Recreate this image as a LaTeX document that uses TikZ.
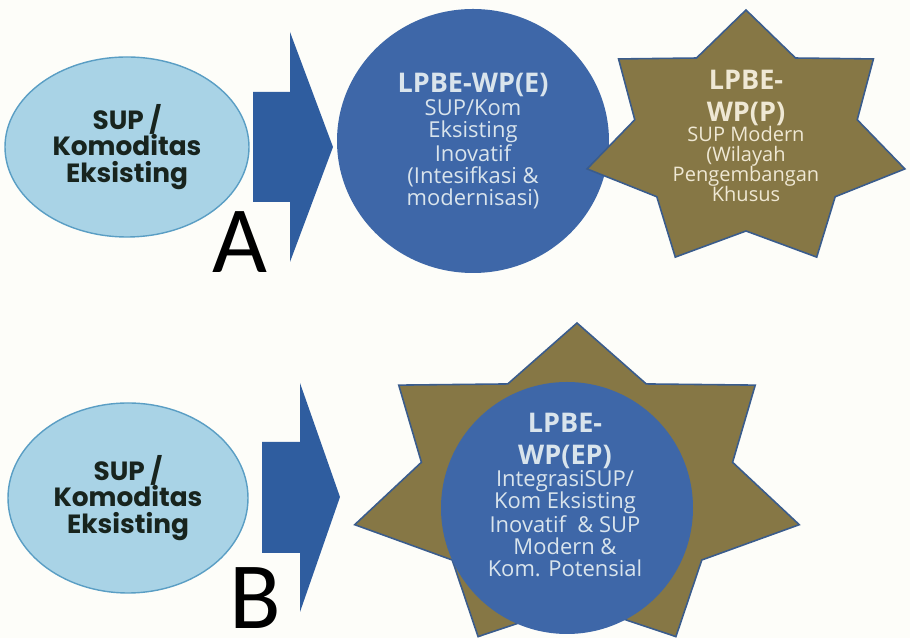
\documentclass[tikz,border=0pt]{standalone}
\usepackage{fontspec}
\setmainfont{Open Sans}
\newfontfamily\heavyfont{Poppins}
\newfontfamily\letterfont{Carlito}
\usetikzlibrary{shapes.geometric}

\definecolor{paper}{HTML}{FDFDF9}
\definecolor{skyfill}{HTML}{A9D3E6}
\definecolor{skyline}{HTML}{5A9EC4}
\definecolor{arrowblue}{HTML}{2F5D9F}
\definecolor{discblue}{HTML}{3E67A8}
\definecolor{khaki}{HTML}{867745}
\definecolor{starline}{HTML}{3A5C8C}
\definecolor{disctext}{HTML}{D9E4EC}
\definecolor{startext}{HTML}{EFE8D4}
\definecolor{inkdark}{HTML}{18241E}

\newcommand\headfont{\bfseries\fontsize{15.4}{18}\selectfont}

\begin{document}
\begin{tikzpicture}[
  oval/.style={ellipse, draw=skyline, fill=skyfill, line width=0.8pt, align=center,
    text=inkdark, font=\heavyfont\bfseries\fontsize{15}{15}\selectfont},
  disc/.style={ellipse, fill=discblue, inner sep=0pt},
  disclabel/.style={align=center, text=disctext, font=\fontsize{12.5}{12.5}\selectfont},
  starlabel/.style={align=center, text=startext, font=\fontsize{11.4}{11.4}\selectfont},
  star7/.style={fill=khaki, draw=starline, line width=0.9pt, line join=miter},
  blockarrow/.style={fill=arrowblue},
  letter/.style={anchor=base, inner sep=0pt, font=\letterfont\fontsize{54}{54}\selectfont}
]
\fill[paper] (0,0) rectangle (18.2,12.76);
\useasboundingbox (0,0) rectangle (18.2,12.76);

% row A
\node[oval, minimum width=4.88cm, minimum height=3.6cm] (ova) at (2.54,9.82) {SUP /\\Komoditas\\Eksisting};
\fill[blockarrow] (5.06,10.92) -- (5.8,10.92) -- (5.8,12.12) -- (6.66,9.82)
  -- (5.8,7.52) -- (5.8,8.72) -- (5.06,8.72) -- cycle;
\node[letter] (lta) at (4.8,7.3) {A};

\node[disc, minimum width=5.44cm, minimum height=5.28cm] (dse) at (9.46,9.94) {};
\node[disclabel] (lbe) at (9.46,9.94) {{\headfont LPBE-WP(E)}\\[1pt]
  SUP/Kom\\Eksisting\\Inovatif\\(Intesifkasi \&\\modernisasi)};

\begin{scope}[shift={(14.92,9.96)}, xscale=3.26, yscale=2.6]
  \draw[star7] (90:1) \foreach \k in {1,3,...,13} {
    -- ({90+\k*180/7}:0.7) -- ({90+(\k+1)*180/7}:1) } -- cycle;
\end{scope}
\node[starlabel] (lbp) at (14.92,10.04) {{\headfont LPBE-}\\[6.6pt]{\headfont WP(P)}\\
  SUP Modern\\(Wilayah\\Pengembangan\\Khusus};

% row B
\node[oval, minimum width=4.8cm, minimum height=3.8cm] (ovb) at (2.56,2.8) {SUP /\\Komoditas\\Eksisting};
\fill[blockarrow] (5.24,3.92) -- (6.0,3.92) -- (6.0,5.1) -- (6.8,2.82)
  -- (6.0,0.52) -- (6.0,1.7) -- (5.24,1.7) -- cycle;
\node[letter] (ltb) at (5.1,0.18) {B};

\begin{scope}[shift={(11.54,3.0)}, xscale=4.56, yscale=3.3]
  \draw[star7] (90:1) \foreach \k in {1,3,...,13} {
    -- ({90+\k*180/7}:0.7) -- ({90+(\k+1)*180/7}:1) } -- cycle;
\end{scope}
\node[disc, minimum width=5.04cm, minimum height=5.04cm] (dsep) at (11.34,2.6) {};
\node[disclabel] (lbep) at (11.3,2.86) {{\headfont LPBE-}\\[6pt]{\headfont WP(EP)}\\
  IntegrasiSUP/\\Kom Eksisting\\Inovatif~ \& SUP\\Modern \&\\Kom. Potensial};
\end{tikzpicture}
\end{document}
